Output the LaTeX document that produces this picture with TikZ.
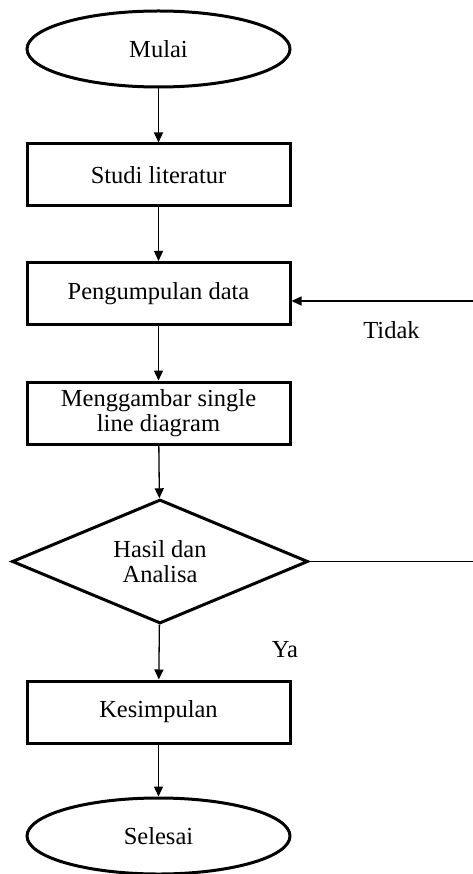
\documentclass[tikz,border=0pt]{standalone}
\usepackage{fontspec}
\setmainfont{Liberation Serif}
\usepackage{tikz}
\usetikzlibrary{shapes.geometric, arrows.meta, positioning, calc}

\tikzset{
  terminal/.style={draw, ellipse, line width=3pt, minimum width=263pt, minimum height=76pt, inner sep=0pt},
  process/.style={draw, rectangle, line width=3pt, minimum width=263pt, minimum height=62pt, align=center, inner sep=0pt},
  decision/.style={draw, diamond, line width=3pt, minimum width=296pt, minimum height=124pt, aspect=2.37, align=center, inner sep=0pt},
  flow/.style={line width=1.3pt, -{Triangle[length=10pt, width=9pt]}},
  plain/.style={line width=1.3pt}
}

\begin{document}
\begin{tikzpicture}[x=1pt, y=-1pt, font=\fontsize{24.5}{25.5}\selectfont]
  \useasboundingbox (0,0) rectangle (472,874);

  % Start
  \node[terminal] (mulai) at (158.5, 49) {Mulai};

  % Steps
  \node[process] (studi) at (158.5, 175) {Studi literatur};
  \node[process] (data) at (158.5, 293.5) {Pengumpulan data};
  \node[process] (gambar) at (158.5, 413) {Menggambar single\\line diagram};

  % Decision
  \node[decision] (hasil) at (160, 561.5) {Hasil dan\\Analisa};

  % Result and end
  \node[process] (kesimpulan) at (158.5, 712) {Kesimpulan};
  \node[terminal] (selesai) at (158.5, 836) {Selesai};

  % Labels
  \node (tidak) at (391.5, 330) {Tidak};
  \node (ya) at (285, 650) {Ya};

  % Main flow
  \draw[flow] (mulai) -- (studi);
  \draw[flow] (studi) -- (data);
  \draw[flow] (data) -- (gambar);
  \draw[flow] (gambar) -- (hasil);
  \draw[flow] (hasil) -- (kesimpulan);
  \draw[flow] (kesimpulan) -- (selesai);

  % Loop back when the result is not accepted
  \coordinate (loopdown) at (476, 561.5);
  \coordinate (loopup) at (476, 301);
  \draw[plain] (hasil.east) -- (loopdown) -- (loopup);
  \draw[flow] (loopup) -- (data.east |- loopup);
\end{tikzpicture}
\end{document}
